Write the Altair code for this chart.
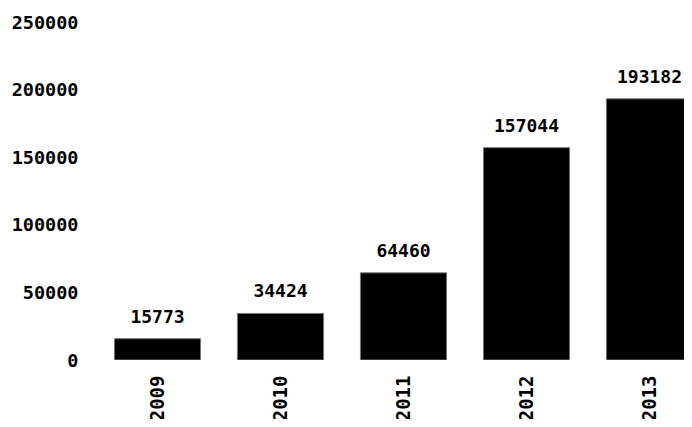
import altair as alt
import pandas as pd

years = ["2009", "2010", "2011", "2012", "2013"]
values = [15773, 34424, 64460, 157044, 193182]
y_ticks = [0, 50000, 100000, 150000, 200000, 250000]

df = pd.DataFrame({"year": years, "value": values})

FONT = "DejaVu Sans Mono"

x = alt.X(
    "year:N",
    sort=years,
    title=None,
    scale=alt.Scale(range=[0, 615], paddingInner=0.3, paddingOuter=0.15),
    axis=alt.Axis(
        labelAngle=270,
        labelFont=FONT,
        labelFontSize=19,
        labelFontWeight="bold",
        labelColor="#000000",
        labelPadding=15,
        ticks=False,
        domain=False,
        grid=False,
    ),
)
y = alt.Y(
    "value:Q",
    title=None,
    scale=alt.Scale(domain=[0, 250000], nice=False),
    axis=alt.Axis(
        values=y_ticks,
        format="d",
        labelFont=FONT,
        labelFontSize=18.5,
        labelFontWeight="bold",
        labelColor="#000000",
        labelPadding=18,
        ticks=False,
        domain=False,
        grid=False,
    ),
)

bars = alt.Chart(df).mark_bar(
    color="#000000", stroke="#777777", strokeWidth=1, clip=True
).encode(x=x, y=y)

labels = alt.Chart(df).mark_text(
    font=FONT,
    fontSize=18,
    fontWeight="bold",
    color="#000000",
    baseline="bottom",
    dy=-12,
).encode(x=x, y=y, text=alt.Text("value:Q", format="d"))

chart = (
    alt.layer(bars, labels)
    .properties(
        width=588,
        height=338,
        padding={"left": 88, "top": 14, "right": 0, "bottom": 59},
        autosize=alt.AutoSizeParams(type="none"),
        background="#ffffff",
    )
    .configure_view(stroke=None)
)

chart.save("out.html", embed_options={"renderer": "svg", "actions": False})
